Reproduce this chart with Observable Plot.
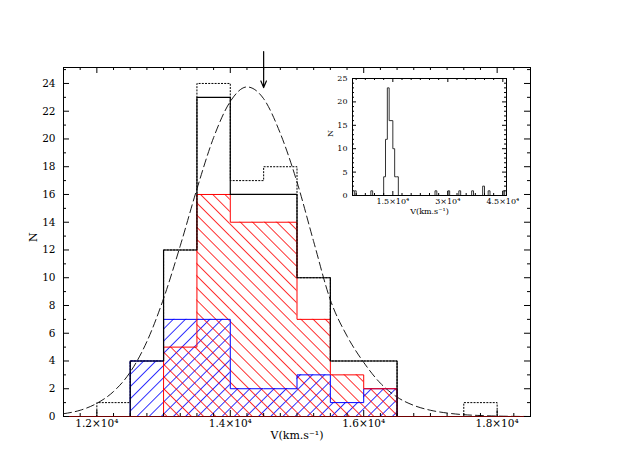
<!DOCTYPE html>
<html><head><meta charset="utf-8">
<script src="https://cdn.jsdelivr.net/npm/d3@7"></script>
<script src="https://cdn.jsdelivr.net/npm/@observablehq/plot@0.6"></script>
<style>
html,body{margin:0;padding:0;background:#fff;}
#wrap{position:relative;width:627px;height:469px;overflow:hidden;background:#fff;}
#main,#inset{position:absolute;}
#main{left:0;top:0;}
#inset{left:300px;top:60px;}
svg{background:transparent !important;}
</style></head>
<body><div id="wrap"><div id="main"></div><div id="inset"></div></div>
<script>
// ---------------- data ----------------
const binWidth = 500;
// whole sample (dotted histogram)
const allStarts = [12000,12500,13000,13500,14000,14500,15000,15500,16000,16500,17000,17500];
const allCounts = [1,4,12,24,17,18,10,4,4,0,0,1];
// members (solid black histogram)
const memStarts = [12500,13000,13500,14000,14500,15000,15500,16000];
const memCounts = [4,12,23,16,16,10,4,4];
// red hatched population
const redStarts = [13000,13500,14000,14500,15000,15500,16000];
const redCounts = [5,16,14,14,7,3,2];
// blue hatched population
const blueStarts = [12500,13000,13500,14000,14500,15000,15500,16000];
const blueCounts = [4,7,7,2,2,3,1,2];
// gaussian fit (dashed)
const gaussV = [11500,11750,12000,12250,12500,12750,13000,13250,13500,13750,14000,14250,14500,14750,15000,15250,15500,15750,16000,16250,16500,16750,17000,17250,17500,17750,18000,18250,18500];
const gaussN = [0.2,0.45,0.95,1.8,3.2,5.4,8.5,12.3,16.4,20.1,22.7,23.75,22.9,20.4,16.9,12.6,8.4,5.8,3.9,2.4,1.4,0.8,0.45,0.25,0.13,0.07,0.03,0.01,0];
// mean velocity arrow
const arrowV = [14500];
const arrowFromN = 26.3, arrowToN = 23.7;
// inset: extra galaxies outside the main range
const insetStarts = [4500,9000,26500,30000,33000,36500,39500,41000,45000];
const insetCounts = [1,1,1,1,1,1,2,1,1];
// ticks
const xMajor = [12000,14000,16000,18000];
const xLabels = ["1.2×10⁴","1.4×10⁴","1.6×10⁴","1.8×10⁴"];
const yMajor = [0,2,4,6,8,10,12,14,16,18,20,22,24];
const insetXMajor = [15000,30000,45000];
const insetXLabels = ["1.5×10⁴","3×10⁴","4.5×10⁴"];
const insetYMajor = [0,5,10,15,20,25];
const xTitle = "V(km.s⁻¹)";
const yTitle = "N";

// ---------------- helpers ----------------
function bins(starts, counts){ return starts.map((s,i)=>({x1:s, x2:s+binWidth, n:counts[i]})); }
function stepPoints(starts, counts){
  const b = bins(starts, counts).sort((a,c)=>a.x1-c.x1);
  const pts = [];
  b.forEach((d,i)=>{
    const prev = b[i-1];
    if (!prev || prev.x2 !== d.x1) pts.push({x:d.x1, y:0});
    pts.push({x:d.x1, y:d.n});
    const next = b[i+1];
    if (!next || next.x1 !== d.x2) pts.push({x:d.x2, y:0});
  });
  return pts;
}
function frameTicks(xs, ys, xLen, yLen, fw, fh){
  return [
    Plot.tickX(xs, {x:d=>d, insetTop: fh - xLen, stroke:"black"}),
    Plot.tickX(xs, {x:d=>d, insetBottom: fh - xLen, stroke:"black"}),
    Plot.tickY(ys, {y:d=>d, insetRight: fw - yLen, stroke:"black"}),
    Plot.tickY(ys, {y:d=>d, insetLeft: fw - yLen, stroke:"black"})
  ];
}
const font = "DejaVu Serif";

// ---------------- main chart ----------------
const W = 627, H = 469, mL = 63, mR = 97, mT = 67, mB = 53;
const fw = W - mL - mR, fh = H - mT - mB;
const xMinor = d3.range(11500, 18501, 250).filter(v => !xMajor.includes(v));
const yMinor = d3.range(1, 26, 2);
const gauss = gaussV.map((v,i)=>({x:v, y:gaussN[i]}));

const main = Plot.plot({
  width: W, height: H, marginLeft: mL, marginRight: mR, marginTop: mT, marginBottom: mB,
  x: {domain: [11500, 18500], axis: null},
  y: {domain: [0, 25.15], axis: null},
  style: {fontFamily: font, fontSize: "10.5px", background: "transparent", color: "black"},
  marks: [
    Plot.rectY(bins(blueStarts, blueCounts), {x1:"x1", x2:"x2", y:"n", fill:"url(#blueHatch)", inset:0}),
    Plot.rectY(bins(redStarts, redCounts), {x1:"x1", x2:"x2", y:"n", fill:"url(#redHatch)", inset:0}),
    Plot.line(gauss, {x:"x", y:"y", curve:"monotone-x", stroke:"black", strokeWidth:0.9, strokeDasharray:"8,4"}),
    Plot.line(stepPoints(allStarts, allCounts), {x:"x", y:"y", curve:"step-after", stroke:"black", strokeWidth:1, strokeDasharray:"1.2,2"}),
    Plot.line(stepPoints(blueStarts, blueCounts), {x:"x", y:"y", curve:"step-after", stroke:"#0000ff", strokeWidth:1}),
    Plot.line(stepPoints(redStarts, redCounts), {x:"x", y:"y", curve:"step-after", stroke:"#ff0000", strokeWidth:1}),
    Plot.line(stepPoints(memStarts, memCounts), {x:"x", y:"y", curve:"step-after", stroke:"black", strokeWidth:1.2}),
    Plot.frame({stroke:"black"}),
    Plot.ruleY([0], {stroke:"#700000", strokeWidth:1.2}),
    ...frameTicks(xMajor, yMajor, 6, 6, fw, fh),
    ...frameTicks(xMinor, yMinor, 3, 3, fw, fh),
    Plot.text(xMajor, {x:d=>d, frameAnchor:"bottom", dy:10, text:(d,i)=>xLabels[i], fill:"black"}),
    Plot.text(yMajor, {y:d=>d, frameAnchor:"left", dx:-8, textAnchor:"end", text:d=>String(d), fill:"black"}),
    Plot.text([xTitle], {frameAnchor:"bottom", dy:22, text:d=>d, fill:"black", fontSize:11}),
    Plot.text([yTitle], {frameAnchor:"left", dx:-30, rotate:-90, text:d=>d, fill:"black", fontSize:11}),
    Plot.arrow(arrowV, {x1:d=>d, x2:d=>d, y1:()=>arrowFromN, y2:()=>arrowToN, stroke:"black", strokeWidth:1.2, headLength:9, headAngle:45})
  ]
});
const ns = "http://www.w3.org/2000/svg";
const defs = document.createElementNS(ns, "defs");
defs.innerHTML = `
<pattern id="redHatch" patternUnits="userSpaceOnUse" width="8.6" height="8.6" patternTransform="rotate(-45)">
  <line x1="4.3" y1="0" x2="4.3" y2="8.6" stroke="#ff0000" stroke-width="0.8"/>
</pattern>
<pattern id="blueHatch" patternUnits="userSpaceOnUse" width="8.6" height="8.6" patternTransform="rotate(45)">
  <line x1="4.3" y1="0" x2="4.3" y2="8.6" stroke="#0000ff" stroke-width="0.8"/>
</pattern>`;
main.insertBefore(defs, main.firstChild);
document.getElementById("main").appendChild(main);

// ---------------- inset ----------------
const iW = 230, iH = 170, imL = 52, imR = 24, imT = 18, imB = 35;
const ifw = iW - imL - imR, ifh = iH - imT - imB;
const insetAllStarts = memStarts.concat(insetStarts);
const insetAllCounts = memCounts.concat(insetCounts);
const ixMinor = d3.range(5000, 46001, 2500).filter(v => !insetXMajor.includes(v));
const iyMinor = d3.range(0, 26, 1).filter(v => !insetYMajor.includes(v));
const inset = Plot.plot({
  width: iW, height: iH, marginLeft: imL, marginRight: imR, marginTop: imT, marginBottom: imB,
  x: {domain: [4000, 46000], axis: null},
  y: {domain: [0, 25], axis: null},
  style: {fontFamily: font, fontSize: "8px", background: "transparent", color: "black"},
  marks: [
    Plot.line(stepPoints(insetAllStarts, insetAllCounts), {x:"x", y:"y", curve:"step-after", stroke:"#333", strokeWidth:1}),
    Plot.frame({stroke:"black"}),
    ...frameTicks(insetXMajor, insetYMajor, 4, 4, ifw, ifh),
    ...frameTicks(ixMinor, iyMinor, 2, 2, ifw, ifh),
    Plot.text(insetXMajor, {x:d=>d, frameAnchor:"bottom", dy:8, text:(d,i)=>insetXLabels[i], fill:"black"}),
    Plot.text(insetYMajor, {y:d=>d, frameAnchor:"left", dx:-5, textAnchor:"end", text:d=>String(d), fill:"black"}),
    Plot.text([xTitle], {frameAnchor:"bottom", dy:18, text:d=>d, fill:"black"}),
    Plot.text([yTitle], {frameAnchor:"left", dx:-22, rotate:-90, text:d=>d, fill:"black"})
  ]
});
document.getElementById("inset").appendChild(inset);
</script>
</body></html>
